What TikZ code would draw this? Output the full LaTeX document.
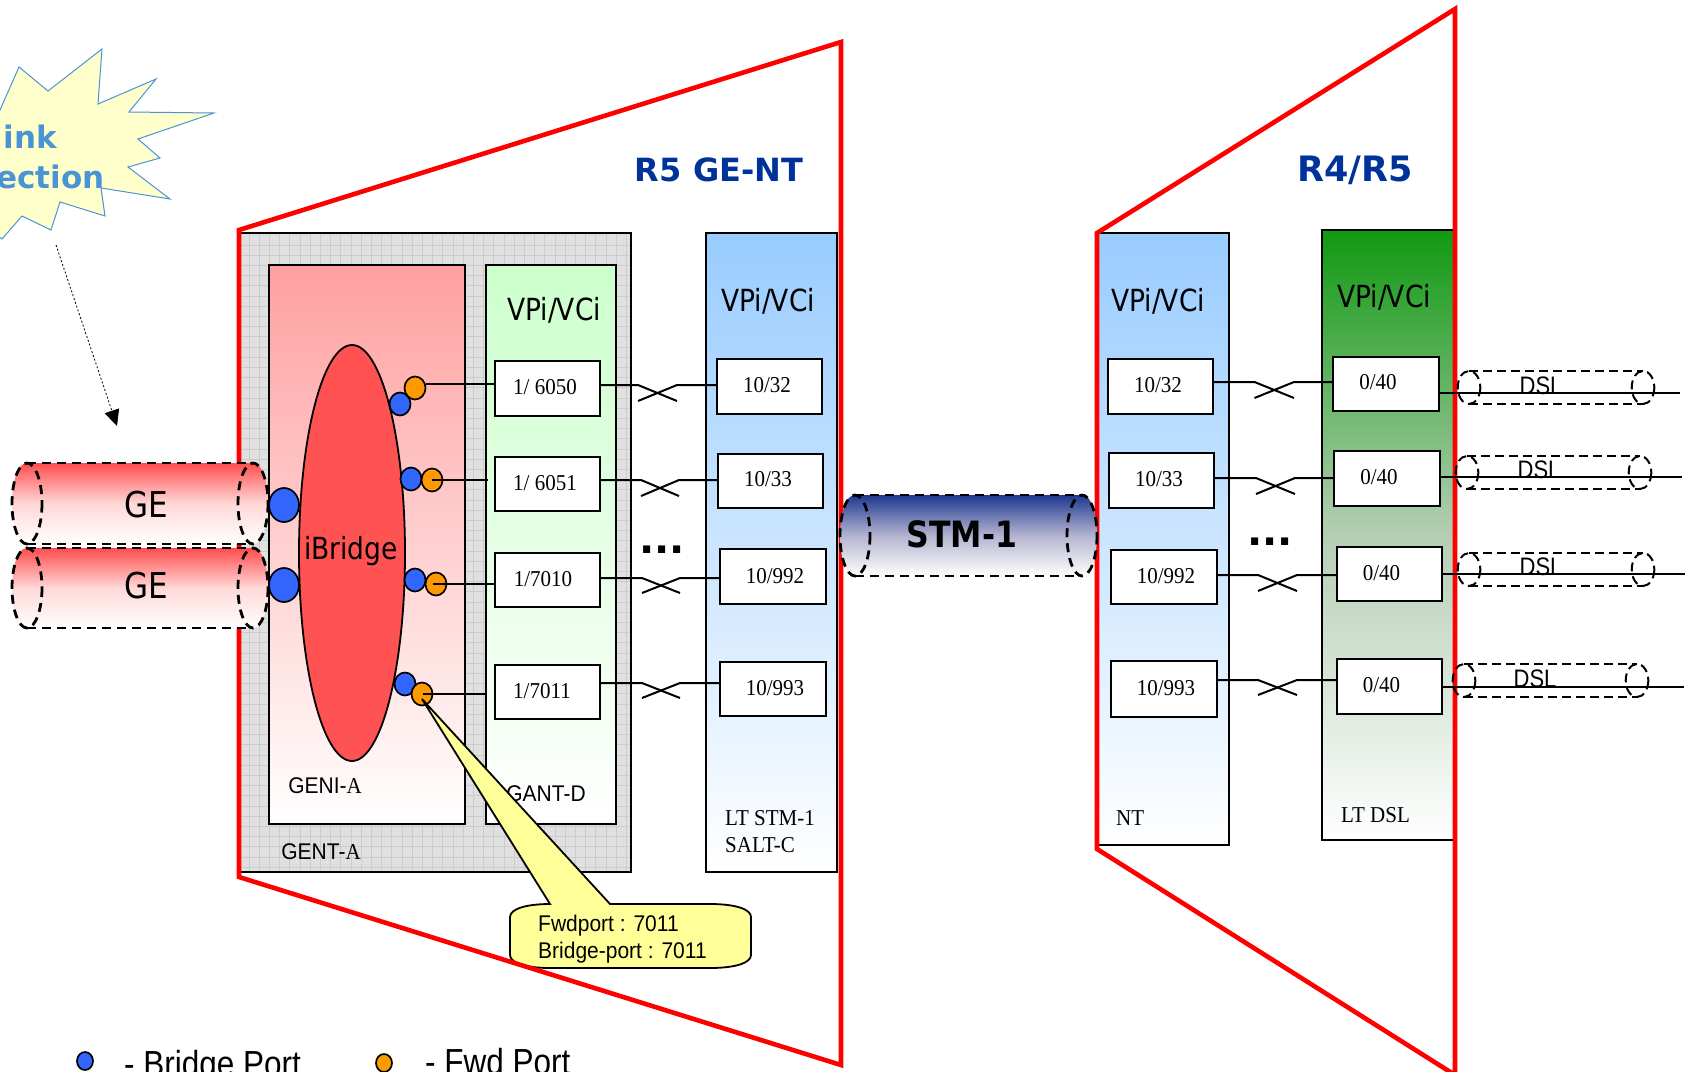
\documentclass[tikz,border=0pt]{standalone}
\usepackage{fontspec}
\usepackage{graphicx}
\usetikzlibrary{shapes.geometric,arrows.meta,fit,calc}
\newfontfamily\fV{DejaVu Sans}
\newfontfamily\fT{Liberation Serif}
\newfontfamily\fA{Liberation Sans}
\newcommand\vstr[1]{\scalebox{1}[1.15]{#1}}
\newcommand\vst[1]{\scalebox{1}[1.08]{#1}}
\definecolor{redline}{HTML}{FF0000}
\definecolor{blueport}{HTML}{3366FF}
\definecolor{orangeport}{HTML}{FF9900}
\definecolor{starblue}{HTML}{4A94D6}
\definecolor{titleblue}{HTML}{003399}
\definecolor{skyblue}{HTML}{99CCFF}
\definecolor{ltgreen}{HTML}{CCFFCC}
\definecolor{ltred}{HTML}{FFA0A0}
\definecolor{dkgreen}{HTML}{119911}
\definecolor{midgreen}{HTML}{B4CEB4}
\definecolor{navy}{HTML}{1F3990}
\definecolor{midnavy}{HTML}{B4B4D0}
\definecolor{calloutyellow}{HTML}{FFFF99}
\definecolor{starfill}{HTML}{FFFFCC}
\definecolor{gentgrey}{HTML}{E0E0E0}
\definecolor{gridgrey}{HTML}{CCCCCC}
\definecolor{tubered}{HTML}{FF4D4D}
\definecolor{midred}{HTML}{FFD8D8}
\tikzset{
  panel/.style={draw=black,line width=2pt},
  redtrap/.style={draw=redline,line width=4.6pt,miter limit=10},
  portbox/.style={draw=black,fill=white,line width=2pt,inner sep=0pt,outer sep=0pt,minimum size=0pt},
  wire/.style={draw=black,line width=2pt},
  bport/.style={ellipse,draw=black,fill=blueport,line width=1.7pt,inner sep=0pt,minimum width=21pt,minimum height=23pt},
  oport/.style={ellipse,draw=black,fill=orangeport,line width=1.7pt,inner sep=0pt,minimum width=21pt,minimum height=23pt},
  bigport/.style={ellipse,draw=black,fill=blueport,line width=1.7pt,inner sep=0pt,minimum width=30pt,minimum height=34pt},
  legport/.style={ellipse,draw=black,line width=1.7pt,inner sep=0pt,minimum width=16pt,minimum height=18pt},
  tubeline/.style={draw=black,line width=2.8pt,dash pattern=on 9pt off 6pt},
  dslline/.style={draw=black,line width=2pt,dash pattern=on 9pt off 5pt},
  vtxt/.style={inner sep=0pt,font=\fV\fontsize{26.5}{30}\selectfont},
  ttxt/.style={inner sep=0pt,font=\fT\fontsize{21}{24}\selectfont},
  atxt/.style={inner sep=0pt,font=\fA\fontsize{21}{24}\selectfont},
  legtxt/.style={inner sep=0pt,anchor=base west,font=\fA\fontsize{31.5}{36}\selectfont},
  title/.style={inner sep=0pt,text=titleblue,font=\fV\bfseries\fontsize{32}{36}\selectfont},
  dots/.style={inner sep=0pt,anchor=base,font=\fV\bfseries\fontsize{40}{44}\selectfont},
}
% left x, right x, top y, bottom y, cap radius, fill options
\newcommand\tubeshape[6]{%
  \path[#6] (#1,#3) -- (#2,#3) .. controls (#2+1.33*#5,#3) and (#2+1.33*#5,#4) .. (#2,#4)
     -- (#1,#4) .. controls (#1-1.33*#5,#4) and (#1-1.33*#5,#3) .. (#1,#3) -- cycle;
}
\newcommand\tubedash[6]{%
  \draw[#6] (#1,#3) -- (#2,#3) (#1,#4) -- (#2,#4);
  \draw[#6] (#1,{(#3+#4)/2}) ellipse [x radius=#5,y radius={(#4-#3)/2}];
  \draw[#6] (#2,{(#3+#4)/2}) ellipse [x radius=#5,y radius={(#4-#3)/2}];
}
% left node, right node, flat y, low y, x1, x2
\newcommand\xover[6]{%
  \draw[wire] (#1.east |- 0,#3) -- (#5,#3) -- (#6,#4);
  \draw[wire] (#2.west |- 0,#3) -- (#6,#3) -- (#5,#4);
}
\begin{document}
\begin{tikzpicture}[x=1pt,y=-1pt]
\useasboundingbox (0,0) rectangle (1691,1071);
\clip (0,0) rectangle (1691,1071);

% starburst
\path[fill=starfill,draw=starblue,line width=1pt]
  (-30,150) -- (0,110) -- (19,67) -- (48,91) -- (102,49) -- (98,104) -- (156,79) -- (129,112)
  -- (214,113) -- (138,139) -- (160,158) -- (128,167) -- (170,199) -- (101,188) -- (105,216)
  -- (60,202) -- (51,230) -- (22,216) -- (2,239) -- (-30,215) -- cycle;
\node[inner sep=0pt,anchor=base east,text=starblue,font=\fV\bfseries\fontsize{31}{34}\selectfont] (ink) at (57,148) {ink};
\node[inner sep=0pt,anchor=base east,text=starblue,font=\fV\bfseries\fontsize{31}{34}\selectfont] (ection) at (105,188) {ection};
\coordinate (arrowfrom) at (56,245);
\coordinate (arrowto) at (117,426);
\draw[black,line width=0.8pt,dash pattern=on 2pt off 2pt,-{Triangle[length=16pt,width=15pt]}] (arrowfrom) -- (arrowto);

% GENT-A background
\fill[fill=gentgrey] (240,233) rectangle (631,872);
\foreach \gx in {249,259.2,...,630} {\draw[gridgrey,line width=0.8pt] (\gx,233) -- (\gx,872);}
\foreach \gy in {245,255.2,...,871} {\draw[gridgrey,line width=0.8pt] (240,\gy) -- (631,\gy);}
\draw[panel] (240,233) rectangle (631,872);

\path[panel,top color=ltred,bottom color=white] (269,265) rectangle (465,824);
\path[panel,top color=ltgreen,bottom color=white] (486,265) rectangle (616,824);
\path[panel,top color=skyblue,bottom color=white] (706,233) rectangle (837,872);
\path[panel,top color=skyblue,bottom color=white] (1097,233) rectangle (1228.5,845);
\path[panel,top color=dkgreen,bottom color=white,middle color=midgreen] (1322,230) rectangle (1455,840);

% ibridge
\node[ellipse,draw=black,fill=red!68,line width=1.8pt,inner sep=0pt,minimum width=106pt,minimum height=416pt] (ibridge) at (352,553) {};
\node[vtxt] (ibridgetxt) at (351,551) {\vstr{iBridge}};

% ports
\node[bigport] (big1) at (284,505) {};
\node[bigport] (big2) at (284,585) {};
\node[bport] (b1) at (400,404) {};
\node[oport] (o1) at (415,388) {};
\node[bport] (b2) at (411,479) {};
\node[oport] (o2) at (432,480) {};
\node[bport] (b3) at (415,580) {};
\node[oport] (o3) at (436,584) {};
\node[bport] (b4) at (405,684) {};
\node[oport] (o4) at (422,694) {};

% VP boxes: GANT-D
\node[portbox,fit={(495,361)(600,416)}] (a1) {};
\node[portbox,fit={(495,457)(600,511)}] (a2) {};
\node[portbox,fit={(495,553)(600,607)}] (a3) {};
\node[portbox,fit={(495,665)(600,719)}] (a4) {};
% LT STM-1
\node[portbox,fit={(717,359)(822,414)}] (c1) {};
\node[portbox,fit={(718,454)(823,508)}] (c2) {};
\node[portbox,fit={(720,549)(826,604)}] (c3) {};
\node[portbox,fit={(720,662)(826,716)}] (c4) {};
% NT
\node[portbox,fit={(1107.5,359)(1213,414)}] (n1) {};
\node[portbox,fit={(1109,453)(1214,508)}] (n2) {};
\node[portbox,fit={(1111,550)(1217,604)}] (n3) {};
\node[portbox,fit={(1111,661)(1217,717)}] (n4) {};
% LT DSL
\node[portbox,fit={(1333,357)(1439,411)}] (d1) {};
\node[portbox,fit={(1334,451)(1440,506)}] (d2) {};
\node[portbox,fit={(1337,547)(1442,601)}] (d3) {};
\node[portbox,fit={(1337,659)(1442,714)}] (d4) {};

% port wires
\draw[wire] (o1.east |- 0,384) -- (a1.west |- 0,384);
\draw[wire] (o2.center |- 0,480) -- (488,480);
\draw[wire] (433,584) -- (a3.west |- 0,584);
\draw[wire] (423,694) -- (486,694);

% box labels
\node[ttxt] (la1) at (545,387) {\vst{1/ 6050}};
\node[ttxt] (la2) at (545,483) {\vst{1/ 6051}};
\node[ttxt] (la3) at (543,579) {\vst{1/7010}};
\node[ttxt] (la4) at (542,691) {\vst{1/7011}};
\node[ttxt] (lc1) at (767,385) {\vst{10/32}};
\node[ttxt] (lc2) at (768,479) {\vst{10/33}};
\node[ttxt] (lc3) at (775,576) {\vst{10/992}};
\node[ttxt] (lc4) at (775,688) {\vst{10/993}};
\node[ttxt] (ln1) at (1158,385) {\vst{10/32}};
\node[ttxt] (ln2) at (1159,479) {\vst{10/33}};
\node[ttxt] (ln3) at (1166,576) {\vst{10/992}};
\node[ttxt] (ln4) at (1166,688) {\vst{10/993}};
\node[ttxt] (ld1) at (1378,382.5) {\vst{0/40}};
\node[ttxt] (ld2) at (1379,477) {\vst{0/40}};
\node[ttxt] (ld3) at (1381.5,573) {\vst{0/40}};
\node[ttxt] (ld4) at (1381.5,685) {\vst{0/40}};

% crossovers
\xover{a1}{c1}{385}{401}{638}{677}
\xover{a2}{c2}{480}{496}{641}{679}
\xover{a3}{c3}{578}{593}{642}{680}
\xover{a4}{c4}{683}{698}{642}{680}
\xover{n1}{d1}{382}{398}{1254.5}{1294}
\xover{n2}{d2}{478}{494}{1256}{1295}
\xover{n3}{d3}{575}{591}{1258}{1297}
\xover{n4}{d4}{680}{695}{1258}{1297}
\node[dots] (dotsl) at (662,553) {...};
\node[dots] (dotsr) at (1270,545) {...};

% headings
\node[vtxt] (v1) at (554,310) {\vstr{VPi/VCi}};
\node[vtxt] (v2) at (768,301) {\vstr{VPi/VCi}};
\node[vtxt] (v3) at (1158,301) {\vstr{VPi/VCi}};
\node[vtxt] (v4) at (1384,297.5) {\vstr{VPi/VCi}};
\node[title] (r5) at (719,170) {R5 GE-NT};
\node[title,font=\fV\bfseries\fontsize{35}{38}\selectfont] (r4) at (1355,170) {R4/R5};

% card labels
\node[atxt] (geni) at (325,786) {\vst{GENI-{\fT A}}};
\node[atxt] (gent) at (321,852) {\vst{GENT-{\fT A}}};
\node[atxt] (gant) at (546,794) {\vst{GANT-D}};
\node[ttxt,anchor=west] (lts1) at (725,818) {\vst{LT STM-1}};
\node[ttxt,anchor=west] (lts2) at (725,845) {\vst{SALT-C}};
\node[ttxt,anchor=west] (ltnt) at (1116,818) {\vst{NT}};
\node[ttxt,anchor=west] (ltdsl) at (1341,815) {\vst{LT DSL}};

% callout
\path[draw=black,fill=calloutyellow,line width=1.8pt]
  (550,904) -- (422,699) -- (610,904) -- (710,904)
  .. controls (735,904) and (751,909) .. (751,917) -- (751,955)
  .. controls (751,963) and (735,968) .. (710,968) -- (550,968)
  .. controls (526,968) and (510,963) .. (510,955) -- (510,917)
  .. controls (510,909) and (526,904) .. (550,904) -- cycle;
\node[atxt,anchor=west] (fwd) at (538,926) {\vst{Fwdport : 7011}};
\node[atxt,anchor=west] (brp) at (538,953) {\vst{Bridge-port : 7011}};

% red outlines
\draw[redtrap] (239,230) -- (841,42) -- (841,1065) -- (239,877) -- cycle;
\draw[redtrap] (1097,233) -- (1455,9) -- (1455,1075) -- (1097,849) -- cycle;

% GE tubes
\tubeshape{27}{253}{463}{544}{15}{top color=tubered,bottom color=white,middle color=midred}
\tubedash{27}{253}{463}{544}{15}{tubeline}
\tubeshape{27}{253}{548}{628}{15}{top color=tubered,bottom color=white,middle color=midred}
\tubedash{27}{253}{548}{628}{15}{tubeline}
\node[vtxt,font=\fV\fontsize{31}{34}\selectfont] (ge1) at (146,505) {\vstr{GE}};
\node[vtxt,font=\fV\fontsize{31}{34}\selectfont] (ge2) at (146,586) {\vstr{GE}};

% STM-1 tube
\tubeshape{855}{1082}{495}{576}{15}{top color=navy,bottom color=white,middle color=midnavy}
\tubedash{855}{1082}{495}{576}{15}{tubeline}
\node[vtxt,font=\fV\bfseries\fontsize{31.5}{34}\selectfont] (stm) at (962,534) {\vstr{STM-1}};

% DSL links
\coordinate (e1) at (1680,393);
\coordinate (e2) at (1682,476.5);
\coordinate (e3) at (1685,574);
\coordinate (e4) at (1684,687);
\draw[wire] (d1.east |- e1) -- (e1);
\draw[wire] (d2.east |- e2) -- (e2);
\draw[wire] (d3.east |- e3) -- (e3);
\draw[wire] (d4.east |- e4) -- (e4);
\tubedash{1469}{1643}{371}{404}{11.3}{dslline}
\tubedash{1467}{1640}{456}{489}{11.3}{dslline}
\tubedash{1469}{1643}{553}{586}{11.3}{dslline}
\tubedash{1464}{1637}{664}{697}{11.3}{dslline}
\node[atxt,font=\fA\fontsize{22}{24}\selectfont] (dsl1) at (1541,386) {\vstr{DSL}};
\node[atxt,font=\fA\fontsize{22}{24}\selectfont] (dsl2) at (1539,470) {\vstr{DSL}};
\node[atxt,font=\fA\fontsize{22}{24}\selectfont] (dsl3) at (1541,567) {\vstr{DSL}};
\node[atxt,font=\fA\fontsize{22}{24}\selectfont] (dsl4) at (1535,679) {\vstr{DSL}};

% legend
\node[legport,fill=blueport] (legb) at (85,1061) {};
\node[legtxt] (legbt) at (124,1076) {\vstr{- Bridge Port}};
\node[legport,fill=orangeport] (lego) at (384,1063) {};
\node[legtxt] (legot) at (425,1074) {\vstr{- Fwd Port}};
\end{tikzpicture}
\end{document}
